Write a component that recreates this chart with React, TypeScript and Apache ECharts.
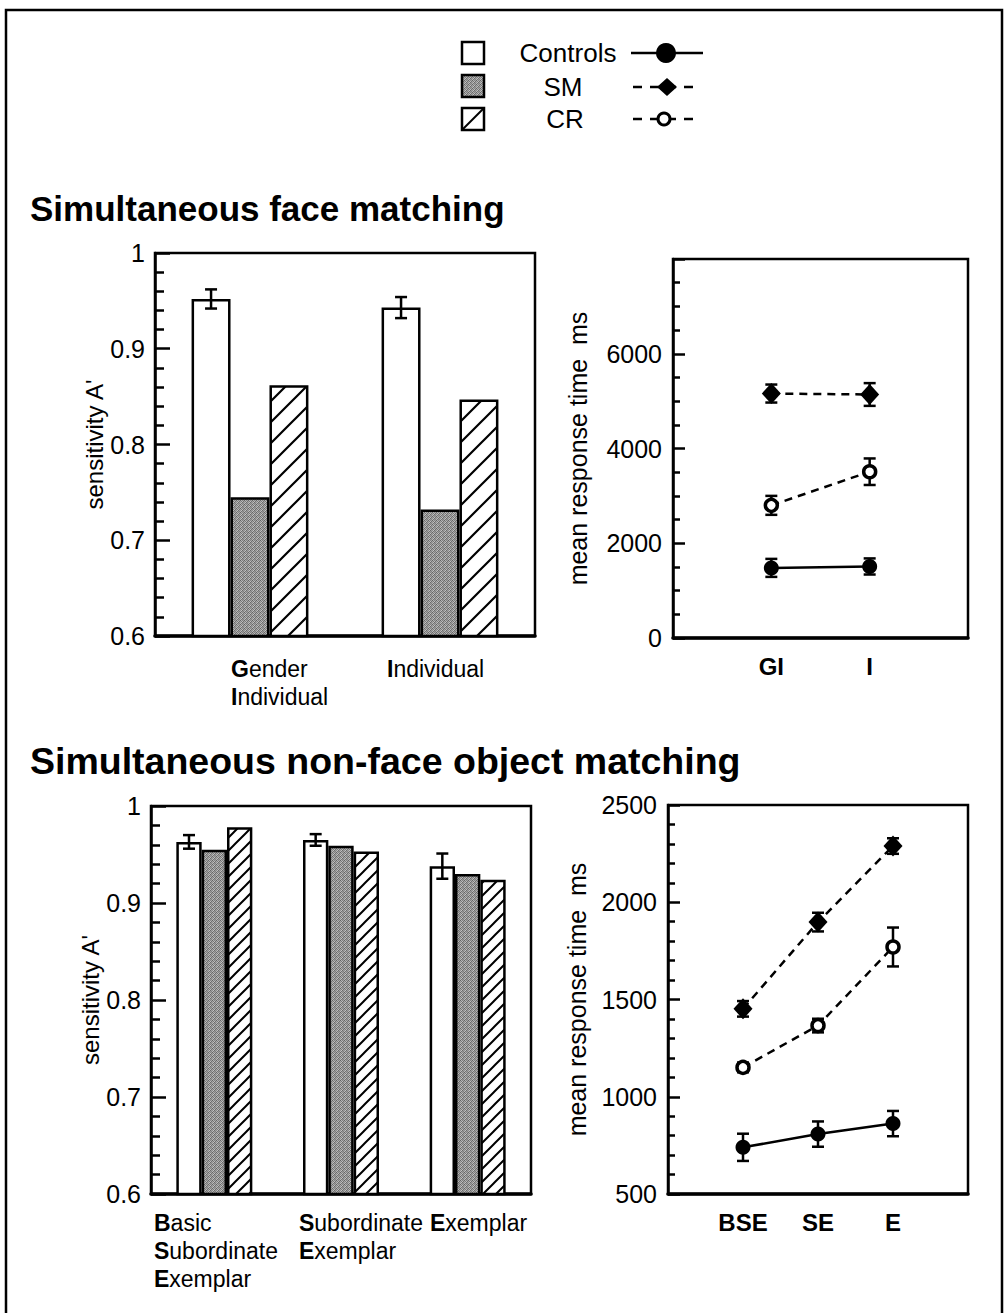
import React, { useEffect, useRef } from 'react';
import * as echarts from 'echarts';

// ---------- DATA ----------
const faceCategories = ['Gender Individual', 'Individual'];
const faceControlsA = [0.952, 0.943];
const faceControlsErr = [0.01, 0.011];
const faceSMA = [0.745, 0.732];
const faceCRA = [0.862, 0.847];

const faceRTLabels = ['GI', 'I'];
const faceRTControls = [1480, 1510];
const faceRTControlsErr = [190, 170];
const faceRTSM = [5160, 5140];
const faceRTSMErr = [190, 240];
const faceRTCR = [2800, 3510];
const faceRTCRErr = [200, 280];

const objCategories = ['Basic Subordinate Exemplar', 'Subordinate Exemplar', 'Exemplar'];
const objControlsA = [0.963, 0.965, 0.938];
const objControlsErr = [0.007, 0.006, 0.013];
const objSMA = [0.955, 0.959, 0.93];
const objCRA = [0.978, 0.953, 0.924];

const objRTLabels = ['BSE', 'SE', 'E'];
const objRTControls = [740, 808, 862];
const objRTControlsErr = [70, 65, 65];
const objRTSM = [1452, 1898, 2289];
const objRTSMErr = [40, 48, 40];
const objRTCR = [1151, 1366, 1770];
const objRTCRErr = [25, 35, 100];

const seriesNames = ['Controls', 'SM', 'CR'];

// ---------- STYLE HELPERS ----------
const FONT = 'Liberation Sans, Arial, Helvetica, sans-serif';
const BLACK = '#000';

function makeHatch(p: number, lw: number) {
  const c = document.createElement('canvas');
  c.width = p;
  c.height = p;
  const ctx = c.getContext('2d')!;
  ctx.fillStyle = '#fff';
  ctx.fillRect(0, 0, p, p);
  ctx.strokeStyle = '#000';
  ctx.lineWidth = lw;
  ctx.beginPath();
  ctx.moveTo(-1, p + 1);
  ctx.lineTo(p + 1, -1);
  ctx.moveTo(-2, 2);
  ctx.lineTo(2, -2);
  ctx.moveTo(p - 2, p + 2);
  ctx.lineTo(p + 2, p - 2);
  ctx.stroke();
  return c;
}

function makeStipple() {
  const levels = [
    [100, 180, 130, 165],
    [170, 120, 190, 110],
    [140, 195, 105, 160],
    [185, 115, 155, 125],
  ];
  const c = document.createElement('canvas');
  c.width = 4;
  c.height = 4;
  const ctx = c.getContext('2d')!;
  for (let y = 0; y < 4; y++) {
    for (let x = 0; x < 4; x++) {
      const g = levels[y][x];
      ctx.fillStyle = `rgb(${g},${g},${g})`;
      ctx.fillRect(x, y, 1, 1);
    }
  }
  return c;
}

const errRender = (offsetFrac: number, cap: number) => (params: any, api: any) => {
  const xv = api.value(0);
  const c = api.coord([xv, api.value(1)]);
  const lo = api.coord([xv, api.value(2)]);
  const hi = api.coord([xv, api.value(3)]);
  const dx = offsetFrac ? -api.size([1, 0])[0] * offsetFrac : 0;
  const x = c[0] + dx;
  const style = { stroke: BLACK, lineWidth: 2.5, fill: null };
  return {
    type: 'group',
    children: [
      { type: 'line', shape: { x1: x, y1: lo[1], x2: x, y2: hi[1] }, style },
      { type: 'line', shape: { x1: x - cap, y1: lo[1], x2: x + cap, y2: lo[1] }, style },
      { type: 'line', shape: { x1: x - cap, y1: hi[1], x2: x + cap, y2: hi[1] }, style },
    ],
  };
};

const errData = (vals: number[], errs: number[], xOffset: number) =>
  vals.map((v, i) => [i + xOffset, v, v - errs[i], v + errs[i]]);

export default function App() {
  const ref = useRef<HTMLDivElement>(null);

  useEffect(() => {
    const el = ref.current!;
    const chart = echarts.init(el, undefined, { renderer: 'svg' });

    const stipple = { image: makeStipple(), repeat: 'repeat' };
    const hatchBig = { image: makeHatch(21, 2.2), repeat: 'repeat' };
    const hatchSmall = { image: makeHatch(13, 2), repeat: 'repeat' };

    const labelStyle = { color: BLACK, fontSize: 25, fontFamily: FONT };
    const axisLineStyle = { show: true, lineStyle: { color: BLACK, width: 2.5 } };

    const yAxisA = (gridIndex: number, nameGap: number) => ({
      gridIndex,
      type: 'value',
      min: 0.6,
      max: 1,
      interval: 0.1,
      axisLine: axisLineStyle,
      axisTick: { show: true, inside: true, length: 15, lineStyle: { color: BLACK, width: 2.5 } },
      minorTick: { show: true, splitNumber: 5, length: 9, lineStyle: { color: BLACK, width: 2.5 } },
      splitLine: { show: false },
      axisLabel: { ...labelStyle, margin: 10, formatter: (v: number) => String(+v.toFixed(2)) },
      name: "sensitivity A'",
      nameLocation: 'middle',
      nameGap,
      nameTextStyle: { color: BLACK, fontSize: 24, fontFamily: FONT },
    });

    const yAxisRT = (gridIndex: number, min: number, max: number, interval: number, minorSplit: number, hideMax: boolean, nameGap: number) => ({
      gridIndex,
      type: 'value',
      min,
      max,
      interval,
      axisLine: axisLineStyle,
      axisTick: { show: true, inside: true, length: 12, lineStyle: { color: BLACK, width: 2.5 } },
      minorTick: { show: true, splitNumber: minorSplit, length: 7, lineStyle: { color: BLACK, width: 2.5 } },
      splitLine: { show: false },
      axisLabel: { ...labelStyle, margin: 11, formatter: (v: number) => (hideMax && v === max ? '' : String(v)) },
      name: 'mean response time  ms',
      nameLocation: 'middle',
      nameGap,
      nameTextStyle: { color: BLACK, fontSize: 25, fontFamily: FONT },
    });

    const xCat = (gridIndex: number, data: string[]) => ({
      gridIndex,
      type: 'category',
      data,
      axisLine: { show: true, lineStyle: { color: BLACK, width: 3.5 } },
      axisTick: { show: false },
      axisLabel: { show: false },
    });

    const xRT = (gridIndex: number, max: number, labels: string[]) => ({
      gridIndex,
      type: 'value',
      min: 0,
      max,
      interval: 1,
      axisLine: { show: true, lineStyle: { color: BLACK, width: 3.5 } },
      axisTick: { show: false },
      splitLine: { show: false },
      axisLabel: {
        color: BLACK,
        fontSize: 24,
        fontWeight: 'bold',
        fontFamily: FONT,
        margin: 16,
        formatter: (v: number) => labels[v - 1] ?? '',
      },
    });

    const barSeries = (xi: number, data: number[], fill: any, width: string) => ({
      type: 'bar',
      xAxisIndex: xi,
      yAxisIndex: xi,
      data,
      barWidth: width,
      barGap: '0%',
      itemStyle: { color: fill, borderColor: BLACK, borderWidth: 2.5 },
      z: 2,
    });

    const lineSeries = (xi: number, name: string, vals: number[]) => {
      const base: any = {
        type: 'line',
        name,
        xAxisIndex: xi,
        yAxisIndex: xi,
        data: vals.map((v, i) => [i + 1, v]),
        z: 4,
        lineStyle: { color: BLACK, width: 2.5, type: name === 'Controls' ? 'solid' : [8, 6] },
      };
      if (name === 'Controls') {
        base.symbol = 'circle';
        base.symbolSize = 15;
        base.itemStyle = { color: BLACK };
      } else if (name === 'SM') {
        base.symbol = 'diamond';
        base.symbolSize = [19, 21];
        base.itemStyle = { color: BLACK };
      } else {
        base.symbol = 'circle';
        base.symbolSize = 12;
        base.itemStyle = { color: '#fff', borderColor: BLACK, borderWidth: 3.5 };
      }
      return base;
    };

    const errSeries = (xi: number, data: any[], offsetFrac: number, cap: number, z: number) => ({
      type: 'custom',
      xAxisIndex: xi,
      yAxisIndex: xi,
      data,
      renderItem: errRender(offsetFrac, cap),
      z,
    });

    const textEl = (text: string, x: number, y: number, size: number, extra: any = {}) => ({
      type: 'text',
      x,
      y,
      silent: true,
      style: {
        text,
        fill: BLACK,
        font: `${extra.weight || 'normal'} ${size}px ${FONT}`,
        align: extra.align || 'left',
        verticalAlign: extra.verticalAlign || 'middle',
      },
    });

    const LBL = 23;
    const richLabel = (text: string, x: number, y: number) => ({
      type: 'text',
      x,
      y,
      silent: true,
      style: {
        text,
        fill: BLACK,
        fontSize: LBL,
        fontFamily: FONT,
        lineHeight: 28,
        align: 'left',
        verticalAlign: 'top',
        rich: { b: { fontWeight: 'bold', fontSize: LBL, fontFamily: FONT, lineHeight: 28, fill: BLACK } },
      },
    });

    const frameStroke = { fill: 'rgba(0,0,0,0)', stroke: BLACK, lineWidth: 2.5 };

    const graphic: any[] = [
      // outer frame
      { type: 'rect', silent: true, shape: { x: 6, y: 10, width: 996, height: 1330 }, style: frameStroke },
      // legend boxes
      { type: 'rect', silent: true, shape: { x: 462, y: 42, width: 22, height: 22 }, style: { fill: '#fff', stroke: BLACK, lineWidth: 2.5 } },
      { type: 'rect', silent: true, shape: { x: 462, y: 75, width: 22, height: 22 }, style: { fill: stipple, stroke: BLACK, lineWidth: 2.5 } },
      { type: 'rect', silent: true, shape: { x: 462, y: 108, width: 22, height: 22 }, style: { fill: '#fff', stroke: BLACK, lineWidth: 2.5 } },
      { type: 'line', silent: true, shape: { x1: 463, y1: 129, x2: 483, y2: 109 }, style: { stroke: BLACK, lineWidth: 2 } },
      // legend texts
      textEl(seriesNames[0], 568, 53, 26, { align: 'center' }),
      textEl(seriesNames[1], 563, 87, 26, { align: 'center' }),
      textEl(seriesNames[2], 565, 119, 26, { align: 'center' }),
      // legend line samples
      { type: 'line', silent: true, shape: { x1: 631, y1: 53, x2: 703, y2: 53 }, style: { stroke: BLACK, lineWidth: 2.5 } },
      { type: 'circle', silent: true, shape: { cx: 666, cy: 53, r: 10 }, style: { fill: BLACK } },
      { type: 'line', silent: true, shape: { x1: 633, y1: 87, x2: 693, y2: 87 }, style: { stroke: BLACK, lineWidth: 2.5, lineDash: [9, 8] } },
      { type: 'polygon', silent: true, shape: { points: [[667, 78], [677, 87], [667, 96], [657, 87]] }, style: { fill: BLACK } },
      { type: 'line', silent: true, shape: { x1: 633, y1: 119, x2: 693, y2: 119 }, style: { stroke: BLACK, lineWidth: 2.5, lineDash: [9, 8] } },
      { type: 'circle', silent: true, shape: { cx: 664, cy: 119, r: 6 }, style: { fill: '#fff', stroke: BLACK, lineWidth: 3 } },
      // titles
      textEl('Simultaneous face matching', 30, 208, 35, { weight: 'bold' }),
      textEl('Simultaneous non-face object matching', 30, 761, 37.5, { weight: 'bold' }),
      // bar chart category labels
      richLabel('{b|G}ender\n{b|I}ndividual', 231, 655),
      richLabel('{b|I}ndividual', 387, 655),
      richLabel('{b|B}asic\n{b|S}ubordinate\n{b|E}xemplar', 154, 1209),
      richLabel('{b|S}ubordinate\n{b|E}xemplar', 299, 1209),
      richLabel('{b|E}xemplar', 430, 1209),
    ];

    const gridBase = { show: true, borderColor: BLACK, borderWidth: 2.5, backgroundColor: 'rgba(0,0,0,0)', containLabel: false };

    const option: any = {
      animation: false,
      backgroundColor: '#fff',
      textStyle: { fontFamily: FONT },
      grid: [
        { ...gridBase, left: 155, top: 253, width: 380, height: 383 },
        { ...gridBase, left: 673, top: 259, width: 295, height: 379 },
        { ...gridBase, left: 151, top: 806, width: 380, height: 388 },
        { ...gridBase, left: 668, top: 805, width: 300, height: 389 },
      ],
      xAxis: [
        xCat(0, faceCategories),
        xRT(1, 3, faceRTLabels),
        xCat(2, objCategories),
        xRT(3, 4, objRTLabels),
      ],
      yAxis: [
        yAxisA(0, 26),
        yAxisRT(1, 0, 8000, 2000, 4, true, 83),
        yAxisA(2, 22),
        yAxisRT(3, 500, 2500, 500, 5, false, 79),
      ],
      series: [
        barSeries(0, faceControlsA, '#fff', '20.5%'),
        barSeries(0, faceSMA, stipple, '20.5%'),
        barSeries(0, faceCRA, hatchBig, '20.5%'),
        errSeries(0, errData(faceControlsA, faceControlsErr, 0), 0.205, 6, 5),

        errSeries(1, errData(faceRTControls, faceRTControlsErr, 1), 0, 6, 3),
        errSeries(1, errData(faceRTSM, faceRTSMErr, 1), 0, 6, 3),
        errSeries(1, errData(faceRTCR, faceRTCRErr, 1), 0, 6, 3),
        lineSeries(1, 'Controls', faceRTControls),
        lineSeries(1, 'SM', faceRTSM),
        lineSeries(1, 'CR', faceRTCR),

        barSeries(2, objControlsA, '#fff', '20%'),
        barSeries(2, objSMA, stipple, '20%'),
        barSeries(2, objCRA, hatchSmall, '20%'),
        errSeries(2, errData(objControlsA, objControlsErr, 0), 0.2, 6, 5),

        errSeries(3, errData(objRTControls, objRTControlsErr, 1), 0, 6, 3),
        errSeries(3, errData(objRTSM, objRTSMErr, 1), 0, 6, 3),
        errSeries(3, errData(objRTCR, objRTCRErr, 1), 0, 6, 3),
        lineSeries(3, 'Controls', objRTControls),
        lineSeries(3, 'SM', objRTSM),
        lineSeries(3, 'CR', objRTCR),
      ],
      graphic,
    };

    chart.setOption(option);
    return () => chart.dispose();
  }, []);

  return (
    <div
      ref={ref}
      style={{ position: 'fixed', left: 0, top: 0, width: 1008, height: 1313, background: '#fff' }}
    />
  );
}
